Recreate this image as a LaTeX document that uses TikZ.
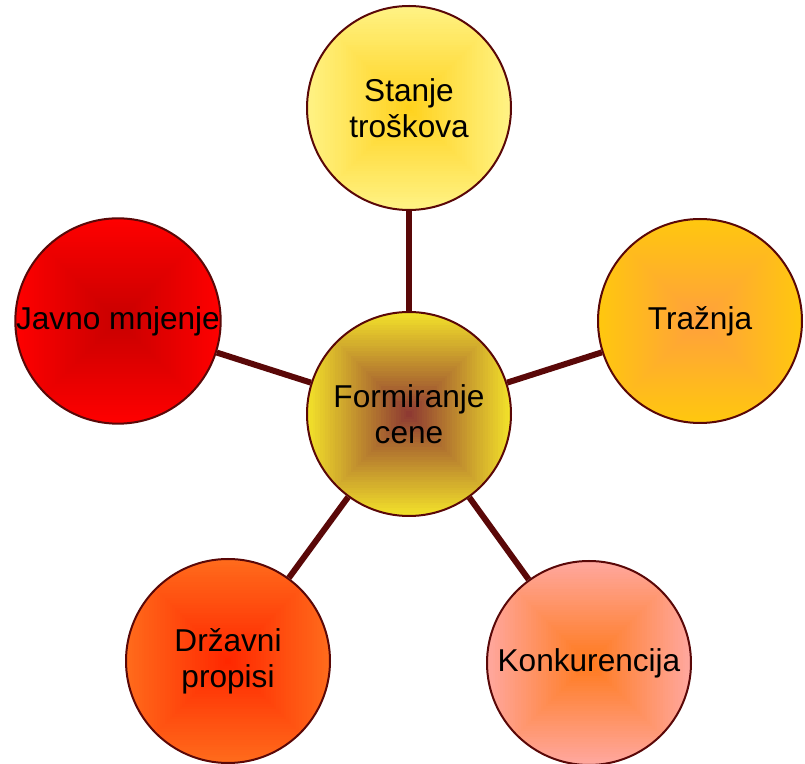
\documentclass[tikz,border=0pt]{standalone}
\usepackage{fontspec}
\setmainfont{Liberation Sans}
\usepackage{xcolor}
\usetikzlibrary{positioning}
\definecolor{rim}{HTML}{5A0808}
\definecolor{ylwout}{HTML}{F4E42A}
\definecolor{ylwin}{HTML}{8E3A32}
\definecolor{paleout}{HTML}{FFF386}
\definecolor{palein}{HTML}{FFD21E}
\definecolor{goldout}{HTML}{FFC80E}
\definecolor{goldin}{HTML}{FFA03C}
\definecolor{redout}{HTML}{FF0000}
\definecolor{redin}{HTML}{C80000}
\definecolor{orgout}{HTML}{FF6C1C}
\definecolor{orgin}{HTML}{FF2800}
\definecolor{pinkout}{HTML}{FFA8A0}
\definecolor{pinkin}{HTML}{FF7A1E}
\tikzset{
  bubble/.style 2 args={circle, draw=rim, line width=1pt, minimum size=102pt,
    inner sep=0pt, align=center, font=\fontsize{15.8}{18}\selectfont,
    path picture={
      \foreach \k in {0,...,40}{
        \pgfmathtruncatemacro\mixp{2.5*\k}
        \pgfmathsetmacro\hs{52*(1-\k/41)}
        \fill[#2!\mixp!#1]
          ([shift={(-\hs pt,-\hs pt)}]path picture bounding box.center)
          rectangle ([shift={(\hs pt,\hs pt)}]path picture bounding box.center);
      }}},
  spoke/.style={rim, line width=3pt}
}
\begin{document}
\begin{tikzpicture}[x=0.5pt,y=-0.5pt]
  \useasboundingbox (0,0) rectangle (805,764);
  \node[bubble={ylwout}{ylwin}] (cena) at (409,414) {Formiranje\\cene};
  \node[bubble={paleout}{palein}] (trosak) at (409,108) {Stanje\\troškova};
  \node[bubble={goldout}{goldin}] (traznja) at (700,321) {Tražnja};
  \node[bubble={redout}{redin}] (mnjenje) at (118,321) {Javno mnjenje};
  \node[bubble={orgout}{orgin}] (propisi) at (228,661) {Državni\\propisi};
  \node[bubble={pinkout}{pinkin}] (konkur) at (589,663) {Konkurencija};
  \foreach \n in {trosak,traznja,mnjenje,propisi,konkur}
    \draw[spoke] (cena) -- (\n);
\end{tikzpicture}
\end{document}
